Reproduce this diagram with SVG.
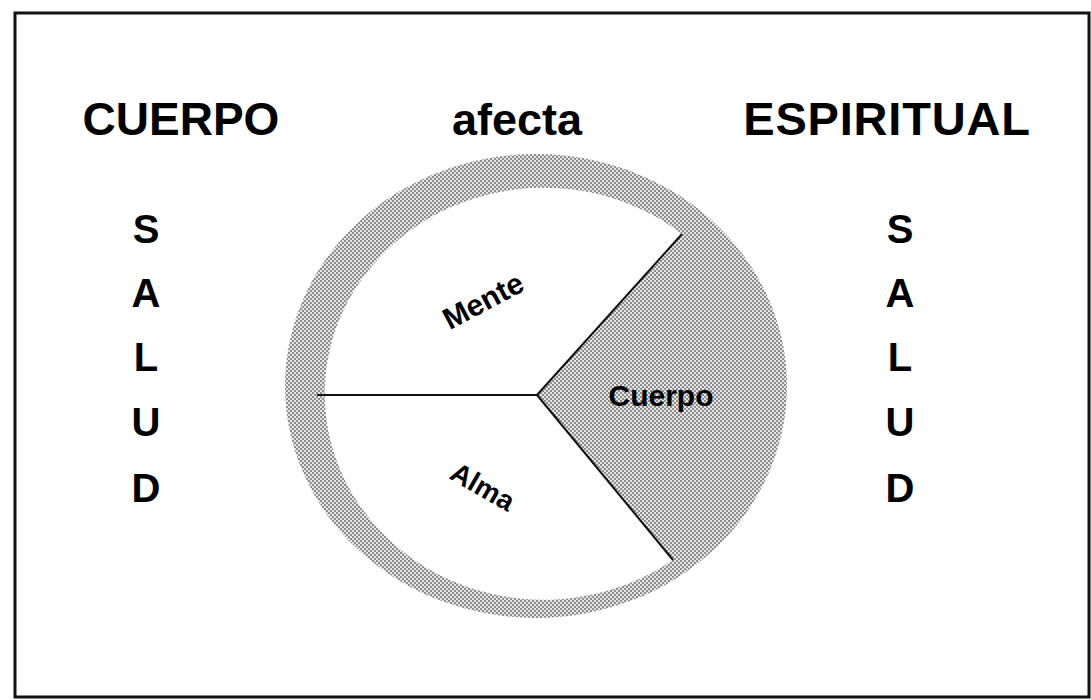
<svg xmlns="http://www.w3.org/2000/svg" width="1091" height="700" viewBox="0 0 1091 700">
<defs>
<pattern id="dots" width="4" height="4" patternUnits="userSpaceOnUse">
<rect width="4" height="4" fill="#e4e4e4"/>
<rect x="0" y="0" width="2" height="2" fill="#8e8e8e"/>
<rect x="2" y="2" width="2" height="2" fill="#8e8e8e"/>
</pattern>
</defs>
<style>
.big{font-family:"Liberation Sans",Arial,sans-serif;font-weight:bold;fill:#000;text-anchor:middle}
.lbl{font-family:"Liberation Sans",Arial,sans-serif;font-weight:bold;fill:#000;text-anchor:middle}
.div{stroke:#111;stroke-width:2;fill:none}
</style>
<rect x="0" y="0" width="1091" height="700" fill="#fff"/>
<rect x="15" y="13" width="1074" height="684" fill="none" stroke="#111" stroke-width="3"/>
<g id="title-cuerpo"><text class="big" x="181" y="135" font-size="46">CUERPO</text></g>
<g id="title-afecta"><text class="big" x="517" y="135" font-size="45">afecta</text></g>
<g id="title-espiritual"><text class="big" x="887" y="135" font-size="47" letter-spacing="0.8">ESPIRITUAL</text></g>
<g id="salud-left">
<text class="big" x="146" y="243" font-size="40">S</text>
<text class="big" x="146" y="307" font-size="40">A</text>
<text class="big" x="146" y="371" font-size="40">L</text>
<text class="big" x="146" y="436" font-size="40">U</text>
<text class="big" x="146" y="502" font-size="40">D</text>
</g>
<g id="salud-right">
<text class="big" x="900" y="243" font-size="40">S</text>
<text class="big" x="900" y="307" font-size="40">A</text>
<text class="big" x="900" y="371" font-size="40">L</text>
<text class="big" x="900" y="436" font-size="40">U</text>
<text class="big" x="900" y="502" font-size="40">D</text>
</g>
<g id="circle">
<ellipse cx="536" cy="386" rx="251" ry="232" fill="url(#dots)"/>
<path d="M537,395 L682,234 A219,206 0 1,0 673,560 Z" fill="#fff"/>
</g>
<g id="connectors">
<line class="div" x1="317" y1="395" x2="537" y2="395"/>
<line class="div" x1="537" y1="395" x2="682" y2="234"/>
<line class="div" x1="537" y1="395" x2="673" y2="560"/>
</g>
<g id="mente"><text class="lbl" font-size="30" transform="translate(488,310) rotate(-28)">Mente</text></g>
<g id="alma"><text class="lbl" font-size="28" transform="translate(478,495) rotate(30)">Alma</text></g>
<g id="cuerpo"><text class="lbl" font-size="30" x="661" y="406">Cuerpo</text></g>
</svg>
